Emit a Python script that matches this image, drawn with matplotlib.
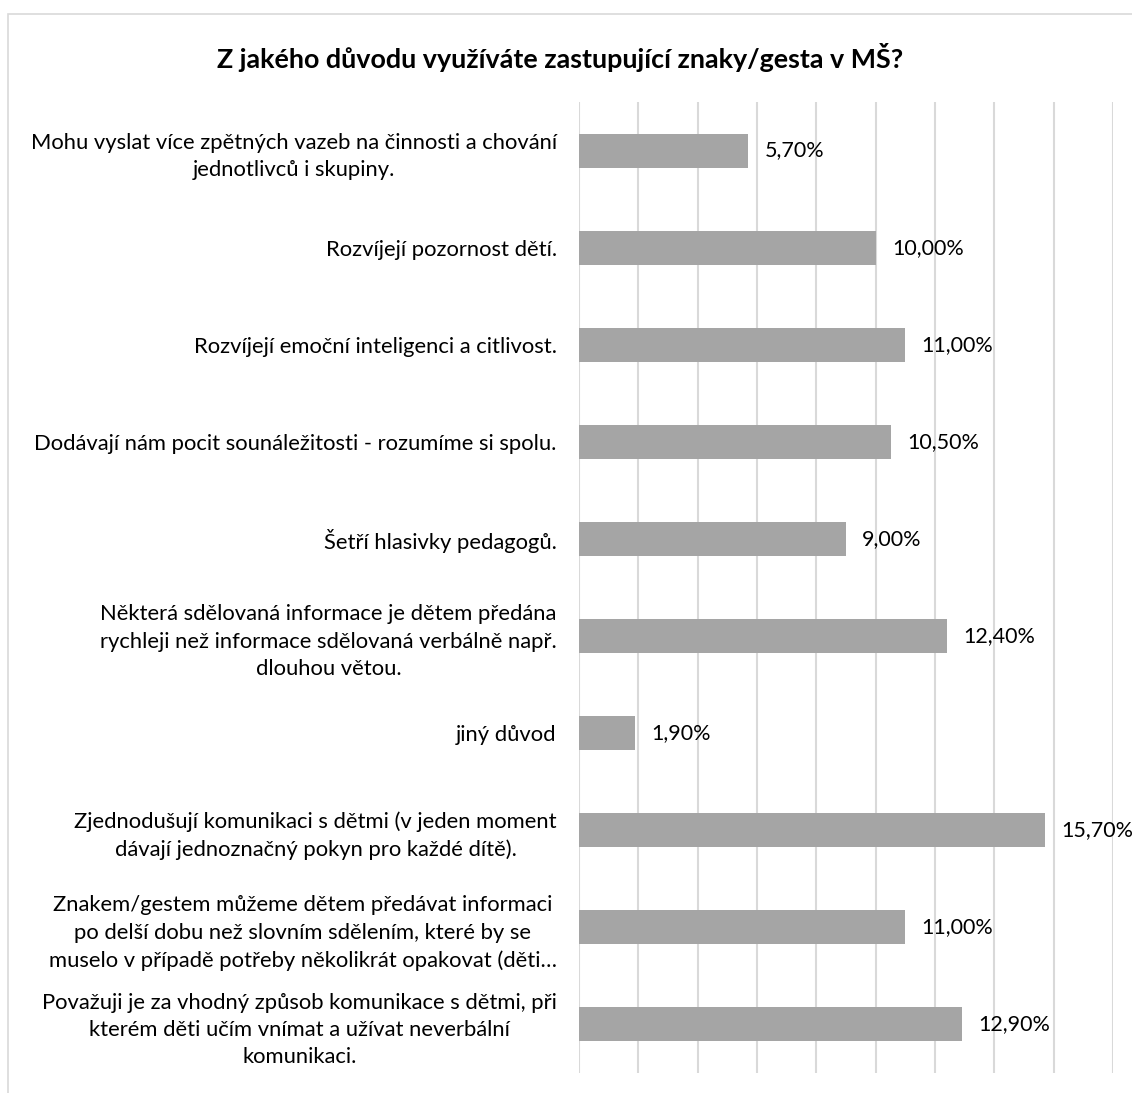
import matplotlib.pyplot as plt
from matplotlib.patches import Rectangle

plt.rcParams['font.family'] = ['Lato', 'DejaVu Sans']

labels = [
    'Mohu vyslat více zpětných vazeb na činnosti a chování\njednotlivců i skupiny.',
    'Rozvíjejí pozornost dětí.',
    'Rozvíjejí emoční inteligenci a citlivost.',
    'Dodávají nám pocit sounáležitosti - rozumíme si spolu.',
    'Šetří hlasivky pedagogů.',
    'Některá sdělovaná informace je dětem předána\nrychleji než informace sdělovaná verbálně např.\ndlouhou větou.',
    'jiný důvod',
    'Zjednodušují komunikaci s dětmi (v jeden moment\ndávají jednoznačný pokyn pro každé dítě).',
    'Znakem/gestem můžeme dětem předávat informaci\npo delší dobu než slovním sdělením, které by se\nmuselo v případě potřeby několikrát opakovat (děti…',
    'Považuji je za vhodný způsob komunikace s dětmi, při\nkterém děti učím vnímat a užívat neverbální\nkomunikaci.',
]
values = [5.7, 10.0, 11.0, 10.5, 9.0, 12.4, 1.9, 15.7, 11.0, 12.9]
title = 'Z jakého důvodu využíváte zastupující znaky/gesta v MŠ?'

fig = plt.figure(figsize=(11.32, 10.93), dpi=100)
fig.patches.append(Rectangle((8 / 1132, -0.01), 1.1, (1093 - 14) / 1093 + 0.01,
                             transform=fig.transFigure, fill=False,
                             edgecolor='#d9d9d9', linewidth=1.2))

ax = fig.add_axes([579 / 1132, 20 / 1093, (1113 - 579) / 1132, (1073 - 102) / 1093])
y = list(range(len(values)))
ax.barh(y, values, height=0.35, color='#a5a5a5', zorder=3)
ax.set_xlim(0, 18)
ax.set_ylim(len(values) - 0.5, -0.5)
ax.set_xticks(range(0, 19, 2))
ax.set_xticklabels([])
ax.tick_params(axis='x', length=0)
ax.tick_params(axis='y', length=0, pad=16)
ax.grid(axis='x', color='#d9d9d9', linewidth=1.5, zorder=0)
for s in ax.spines.values():
    s.set_visible(False)
ax.set_yticks(y)
ax.set_yticklabels(labels, fontsize=15.8, color='#000000', multialignment='center',
                   linespacing=1.45)

for yi, v in zip(y, values):
    ax.text(v + 0.55, yi, f'{v:.2f}%'.replace('.', ','), va='center', ha='left',
            fontsize=15.5, color='#000000', zorder=4)

fig.text(560 / 1132, 1 - 58 / 1093, title, ha='center', va='center',
         fontsize=19.4, fontweight='bold')

fig.savefig('out.png', dpi=100)
